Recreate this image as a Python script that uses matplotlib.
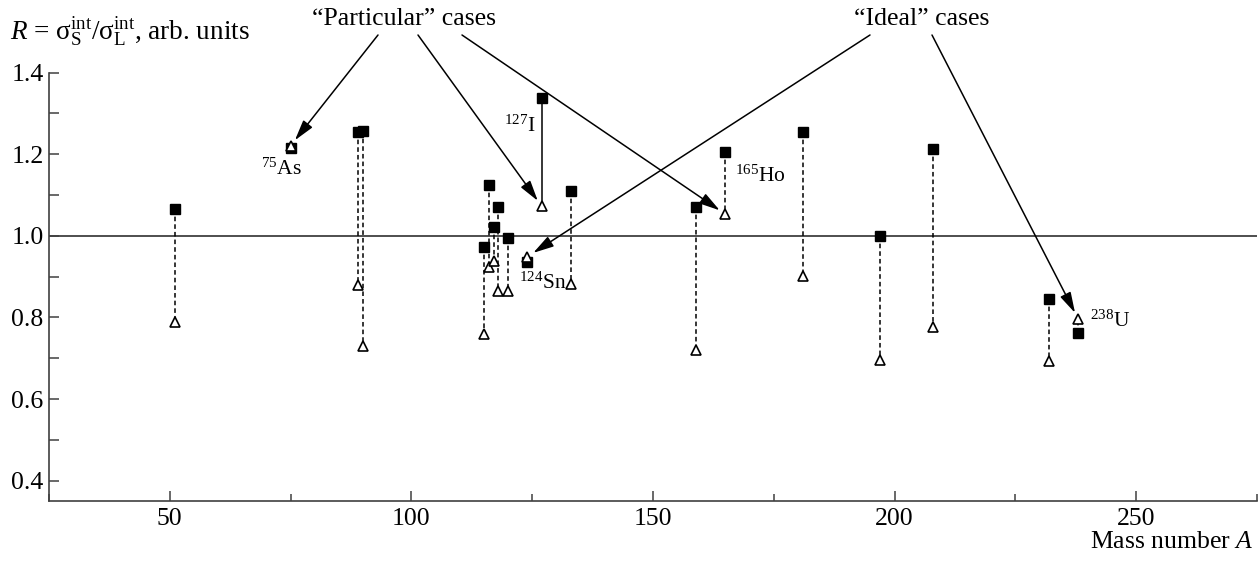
import matplotlib
matplotlib.use("Agg")
import matplotlib.pyplot as plt
from matplotlib.ticker import MultipleLocator

plt.rcParams['font.family'] = ['Liberation Serif', 'DejaVu Serif']
plt.rcParams['mathtext.fontset'] = 'custom'
plt.rcParams['mathtext.rm'] = 'Liberation Serif'
plt.rcParams['mathtext.it'] = 'Liberation Serif:italic'

# mass numbers and the two ratio sets (squares = filled, triangles = open)
mass = [51, 75, 89, 90, 115, 116, 117, 118, 120, 124, 127, 133, 159, 165, 181, 197, 208, 232, 238]
r_square = [1.065, 1.215, 1.254, 1.256, 0.972, 1.124, 1.022, 1.071, 0.994, 0.937, 1.337,
            1.109, 1.071, 1.206, 1.254, 0.999, 1.212, 0.845, 0.763]
r_triangle = [0.788, 1.221, 0.880, 0.730, 0.759, 0.923, 0.939, 0.865, 0.865, 0.949, 1.072,
              0.882, 0.720, 1.053, 0.901, 0.696, 0.777, 0.692, 0.796]

# nuclide labels: (text, A, R, alignment)
labels = [(r'$^{75}$As', 73.2, 1.163, 'center'),
          (r'$^{127}$I', 125.8, 1.27, 'right'),
          (r'$^{124}$Sn', 122.2, 0.884, 'left'),
          (r'$^{165}$Ho', 167.0, 1.147, 'left'),
          (r'$^{238}$U', 240.5, 0.792, 'left')]

particular = [75, 127, 165]
ideal = [124, 238]

W, H = 1259, 561
fig = plt.figure(figsize=(W / 100, H / 100), dpi=100)
ax = fig.add_axes([49 / W, 60 / H, 1 - 51 / W, (501 - 72.7) / H])

ax.set_xlim(25, 275)
ax.set_ylim(0.35, 1.4)

ax.axhline(1.0, color='#404040', lw=1.3, zorder=1)

for a, s, t in zip(mass, r_square, r_triangle):
    ls = '-' if a == 127 else (0, (3, 2))
    ax.plot([a, a], [s, t], color='black', lw=1.1, ls=ls, zorder=2)

ax.plot(mass, r_square, 's', ms=7.8, color='black', zorder=3)
ax.plot(mass, r_triangle, '^', ms=7, mfc='white', mec='black', mew=1.2, zorder=4)

for txt, a, r, ha in labels:
    ax.text(a, r, txt, ha=ha, va='center', fontsize=15.5)

# arrows from the two captions at the top
arrow = dict(arrowstyle='-|>,head_length=0.9,head_width=0.25', color='black', lw=1.1,
             shrinkA=0, shrinkB=5, mutation_scale=14)
tails_p = [378, 418, 462]
tails_i = [870, 932]
for a, xt in zip(particular, tails_p):
    r = r_triangle[mass.index(a)]
    ax.annotate('', xy=(a, r), xytext=(xt / W, 1 - 35 / H), textcoords='figure fraction',
                arrowprops=arrow)
for a, xt in zip(ideal, tails_i):
    r = r_triangle[mass.index(a)]
    ax.annotate('', xy=(a, r), xytext=(xt / W, 1 - 35 / H), textcoords='figure fraction',
                arrowprops=arrow)

fs = 18.5
fig.text(404 / W, 1 - 19 / H, '\u201cParticular\u201d cases', ha='center', va='center', fontsize=fs)
fig.text(922 / W, 1 - 19 / H, '\u201cIdeal\u201d cases', ha='center', va='center', fontsize=fs)

fig.text(10 / W, 1 - 32 / H,
         r'$R$ = σ$_{\rm S}^{\rm int}$/σ$_{\rm L}^{\rm int}$, arb. units',
         ha='left', va='center', fontsize=19.5)
fig.text(1254 / W, 1 - 542 / H, r'Mass number $A$', ha='right', va='center', fontsize=fs)

for side in ['top', 'right']:
    ax.spines[side].set_visible(False)
for side in ['left', 'bottom']:
    ax.spines[side].set_color('#404040')
    ax.spines[side].set_linewidth(1.2)

ax.xaxis.set_major_locator(MultipleLocator(50))
ax.xaxis.set_minor_locator(MultipleLocator(25))
ax.yaxis.set_major_locator(MultipleLocator(0.2))
ax.yaxis.set_minor_locator(MultipleLocator(0.1))
ax.set_yticks([0.4, 0.6, 0.8, 1.0, 1.2, 1.4])
ax.set_yticklabels(['0.4', '0.6', '0.8', '1.0', '1.2', '1.4'])
ax.tick_params(axis='both', which='both', direction='in', color='#404040', width=1.1,
               labelsize=fs)
ax.tick_params(axis='x', which='major', length=7, pad=5)
ax.tick_params(axis='x', which='minor', length=5)
ax.tick_params(axis='y', which='both', length=7, pad=4)

fig.savefig('out.png', dpi=100)
